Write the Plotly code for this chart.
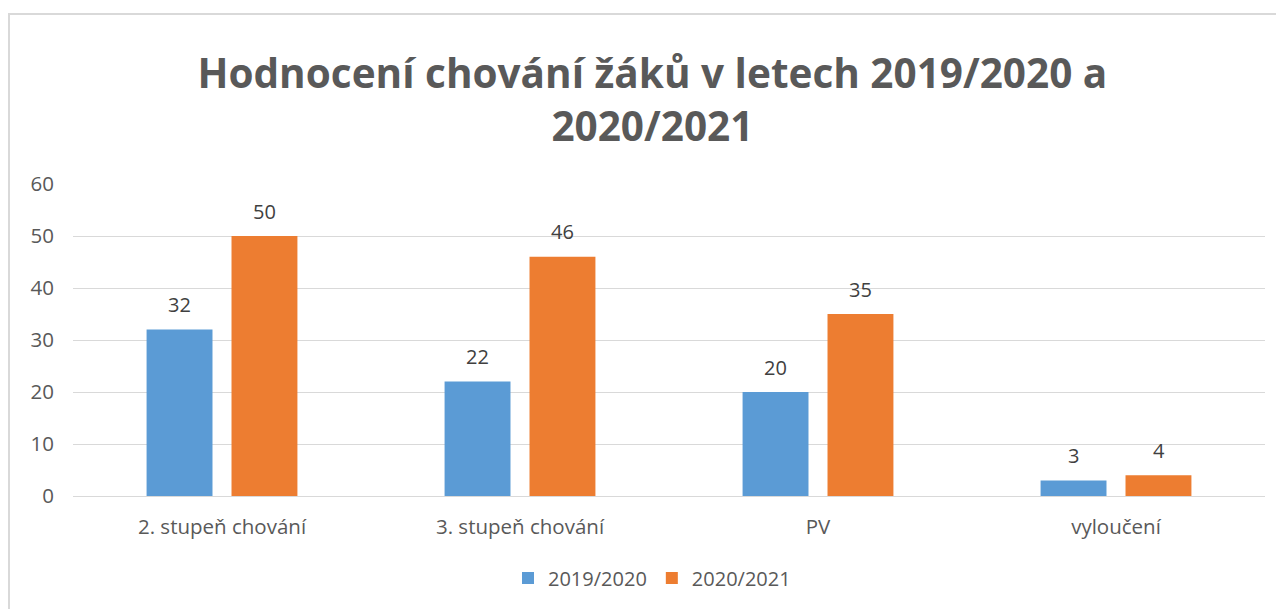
import plotly.graph_objects as go

categories = ["2. stupeň chování", "3. stupeň chování", "PV", "vyloučení"]
series_names = ["2019/2020", "2020/2021"]
values_2019 = [32, 22, 20, 3]
values_2020 = [50, 46, 35, 4]
y_ticks = [0, 10, 20, 30, 40, 50, 60]

colors = ["#5B9BD5", "#ED7D31"]
FONT = "Open Sans"
label_shift = [-42.5, 42.5]

W, H = 1276, 601  # page body adds an 8px margin

fig = go.Figure()
for name, vals, col in zip(series_names, [values_2019, values_2020], colors):
    fig.add_trace(go.Bar(
        x=categories, y=vals, name=name,
        marker=dict(color=col, line=dict(width=0)),
    ))

# data labels
for vals, dx in zip([values_2019, values_2020], label_shift):
    for c, v in zip(categories, vals):
        fig.add_annotation(
            x=c, y=v, xref="x", yref="y", text=str(v), showarrow=False,
            xshift=dx, yshift=25, yanchor="middle",
            font=dict(family=FONT, size=20, color="#404040"),
        )

fig.update_layout(
    width=W, height=H,
    paper_bgcolor="white", plot_bgcolor="white",
    margin=dict(l=65, r=19, t=176, b=113, autoexpand=False),
    barmode="group", bargap=0.43, bargroupgap=0.224,
    title=dict(
        text="Hodnocení chování žáků v letech 2019/2020 a<br>2020/2021",
        x=0.505, xanchor="center", y=1 - 80 / H, yanchor="top",
        font=dict(family=FONT, size=40.5, color="#595959", weight="bold"),
    ),
    font=dict(family=FONT, color="#595959"),
    xaxis=dict(
        showgrid=False, showline=True, linecolor="#D9D9D9", linewidth=1,
        tickfont=dict(family=FONT, size=20.5, color="#595959"),
        ticks="outside", ticklen=12, tickcolor="white", automargin=False,
    ),
    yaxis=dict(
        range=[0, 60], tickvals=y_ticks, showgrid=True, gridcolor="#D9D9D9",
        gridwidth=1, zeroline=False, showline=False,
        tickfont=dict(family=FONT, size=20.5, color="#595959"),
        ticks="outside", ticklen=14, tickcolor="white", automargin=False,
    ),
    legend=dict(
        orientation="h", x=0.5 - 17 / 1192, xanchor="center",
        yref="container", y=1 - 570 / H, yanchor="middle",
        font=dict(family=FONT, size=20, color="#595959"),
        itemwidth=30, traceorder="normal",
    ),
    showlegend=True,
)

# chart-area border (light gray), extends past right/bottom edges
fig.add_shape(
    type="rect", xref="paper", yref="paper",
    x0=(1 - 65) / 1192, x1=(1290 - 65) / 1192,
    y0=(488 - 620) / 312, y1=(488 - 6) / 312,
    line=dict(color="#D9D9D9", width=2), fillcolor="rgba(0,0,0,0)",
    layer="below",
)

fig.write_html("out.html")
